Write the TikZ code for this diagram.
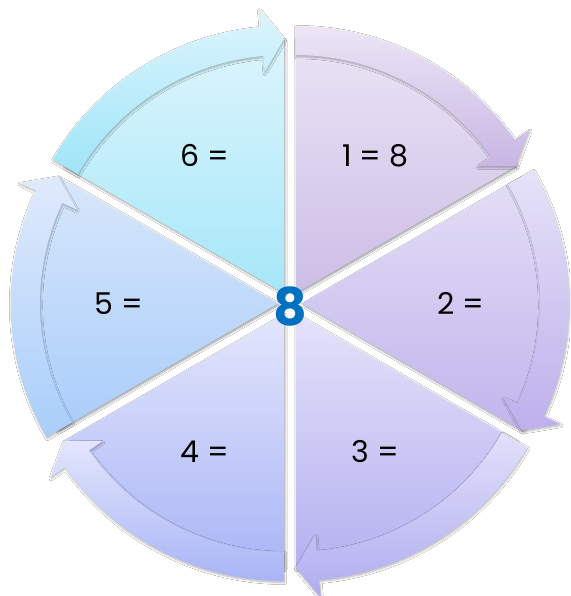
\documentclass[tikz,border=0pt]{standalone}
\usepackage{fontspec}
\setmainfont{Poppins}
\usetikzlibrary{shadows.blur}
\definecolor{WheelOneTop}{HTML}{EAE4F5}
\definecolor{WheelOneBot}{HTML}{CDBDE6}
\definecolor{WheelOneBandTop}{HTML}{ECE6F6}
\definecolor{WheelOneBandBot}{HTML}{C8B6E4}
\definecolor{WheelTwoTop}{HTML}{E3DEF6}
\definecolor{WheelTwoBot}{HTML}{C1B5EC}
\definecolor{WheelTwoBandTop}{HTML}{E6E2F8}
\definecolor{WheelTwoBandBot}{HTML}{BDB0EC}
\definecolor{WheelThreeTop}{HTML}{E4E2FA}
\definecolor{WheelThreeBot}{HTML}{B5B1F0}
\definecolor{WheelThreeBandTop}{HTML}{E2E0FA}
\definecolor{WheelThreeBandBot}{HTML}{AFACF0}
\definecolor{WheelFourTop}{HTML}{E3E6FC}
\definecolor{WheelFourBot}{HTML}{AAB5F6}
\definecolor{WheelFourBandTop}{HTML}{E3E6FC}
\definecolor{WheelFourBandBot}{HTML}{A8B4F6}
\definecolor{WheelFiveTop}{HTML}{D8E7FB}
\definecolor{WheelFiveBot}{HTML}{A9CDFA}
\definecolor{WheelFiveBandTop}{HTML}{E0EAFC}
\definecolor{WheelFiveBandBot}{HTML}{A8CEFA}
\definecolor{WheelSixTop}{HTML}{DCF5FC}
\definecolor{WheelSixBot}{HTML}{A6E7F9}
\definecolor{WheelSixBandTop}{HTML}{DDF5FD}
\definecolor{WheelSixBandBot}{HTML}{9FE5F8}
\definecolor{WheelHub}{HTML}{0070C0}
\tikzset{
  wedge/.style={blur shadow={shadow xshift=1pt, shadow yshift=-1.5pt,
                shadow opacity=40, shadow blur steps=6}},
  band/.style={blur shadow={shadow xshift=0.5pt, shadow yshift=-1.5pt,
               shadow opacity=30, shadow blur steps=6}},
  numlabel/.style={font=\fontsize{30}{36}\selectfont, text=black, inner sep=0pt},
  hub/.style={font=\fontsize{52}{62}\selectfont\bfseries, text=WheelHub, inner sep=0pt},
}

\begin{document}
\begin{tikzpicture}[x=1pt,y=1pt]
    \fill[white] (-290,-292.5) rectangle (280,303.5);
    \useasboundingbox (-290,-292.5) rectangle (280,303.5);
    % six exploded sectors, each with a clockwise ring arrow
    \foreach \a/\n/\txt/\hue in {90/1/{1 = 8}/WheelOne, 30/2/{2 =}/WheelTwo,
        -30/3/{3 =}/WheelThree, -90/4/{4 =}/WheelFour,
        -150/5/{5 =}/WheelFive, 150/6/{6 =}/WheelSix}{
      \begin{scope}[shift={(\a-30:12)}]
        \path[wedge, top color=\hue Top, bottom color=\hue Bot]
          (0,0) -- (\a:254) arc[start angle=\a, end angle=\a-60, radius=254] -- cycle;
        \path[band, top color=\hue BandTop, bottom color=\hue BandBot]
          (\a:267) arc[start angle=\a, end angle=\a-55, radius=267]
          -- (\a-55:285) -- (\a-60:254) -- (\a-55:222) -- (\a-55:238)
          arc[start angle=\a-55, end angle=\a, radius=238] -- cycle;
        \node[numlabel] (sector\n) at (\a-30:159) {\txt};
      \end{scope}
    }
    \node[hub] (hub) at (0,-3) {8};
  \end{tikzpicture}
\end{document}
